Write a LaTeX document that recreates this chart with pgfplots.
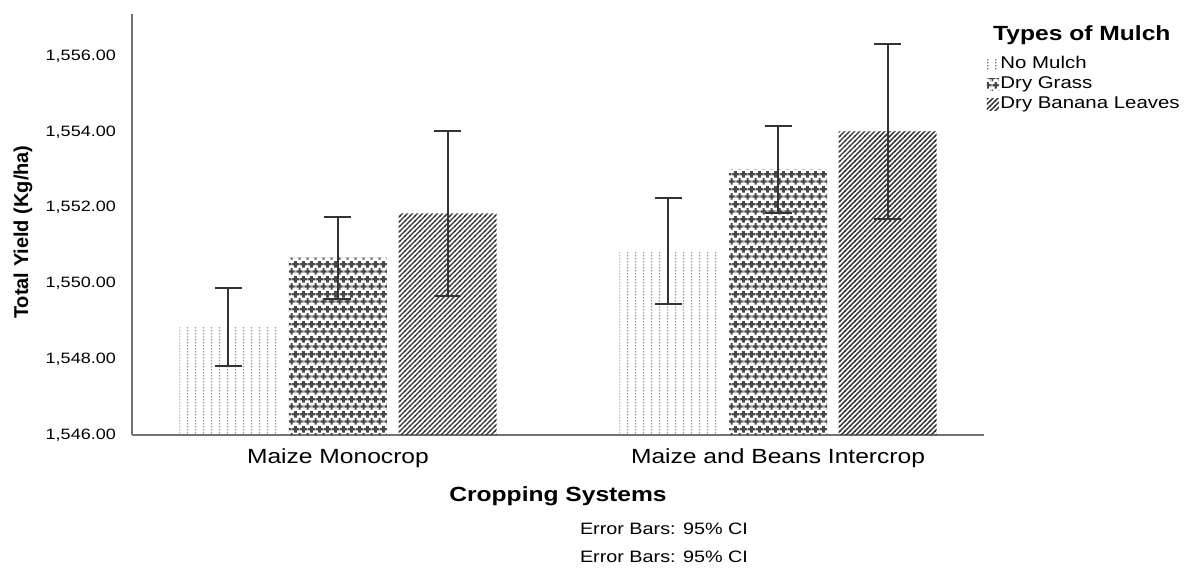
\documentclass[border=0pt]{standalone}
\usepackage{fontspec}
\setmainfont{Liberation Sans}[FakeStretch=1.2]
\newfontfamily\plainsans{Liberation Sans}
\usepackage{pgfplots}
\pgfplotsset{compat=1.18}
\usetikzlibrary{patterns}

\pgfdeclarepatterninherentlycolored{nomulch}{\pgfpointorigin}{\pgfpoint{8pt}{3pt}}{\pgfpoint{8pt}{3pt}}{%
  \pgfsetcolor{black!60}%
  \pgfpathrectangle{\pgfpoint{3.3pt}{0.8pt}}{\pgfpoint{1.4pt}{1.4pt}}%
  \pgfusepath{fill}%
}
\pgfdeclarepatterninherentlycolored{drygrass}{\pgfpointorigin}{\pgfpoint{8pt}{14.6pt}}{\pgfpoint{8pt}{14.6pt}}{%
  \pgfsetcolor{black!72}%
  \pgfpathrectangle{\pgfpoint{2.9pt}{0.35pt}}{\pgfpoint{2.2pt}{6.6pt}}%
  \pgfpathrectangle{\pgfpoint{0.7pt}{2.55pt}}{\pgfpoint{6.6pt}{2.2pt}}%
  \pgfpathrectangle{\pgfpoint{0pt}{7.65pt}}{\pgfpoint{1.1pt}{6.6pt}}%
  \pgfpathrectangle{\pgfpoint{0pt}{9.85pt}}{\pgfpoint{3.3pt}{2.2pt}}%
  \pgfpathrectangle{\pgfpoint{6.9pt}{7.65pt}}{\pgfpoint{1.1pt}{6.6pt}}%
  \pgfpathrectangle{\pgfpoint{4.7pt}{9.85pt}}{\pgfpoint{3.3pt}{2.2pt}}%
  \pgfusepath{fill}%
  \pgfsetcolor{black!40}%
  \pgfpathrectangle{\pgfpoint{0pt}{2.75pt}}{\pgfpoint{0.9pt}{1.8pt}}%
  \pgfpathrectangle{\pgfpoint{7.1pt}{2.75pt}}{\pgfpoint{0.9pt}{1.8pt}}%
  \pgfpathrectangle{\pgfpoint{3.1pt}{10.05pt}}{\pgfpoint{1.8pt}{1.8pt}}%
  \pgfusepath{fill}%
}
\pgfdeclarepatterninherentlycolored{banana}{\pgfpoint{-1pt}{-1pt}}{\pgfpoint{6pt}{6pt}}{\pgfpoint{5pt}{5pt}}{%
  \pgfsetcolor{black!80}%
  \pgfsetlinewidth{1.4pt}%
  \pgfpathmoveto{\pgfpoint{-0.5pt}{-0.5pt}}%
  \pgfpathlineto{\pgfpoint{5.5pt}{5.5pt}}%
  \pgfusepath{stroke}%
}

\pgfplotsset{
  mybar/.style={
    ybar, bar width=0.2227, bar shift=0, draw=none,
    error bars/y dir=both, error bars/y explicit,
    error bars/error mark=-,
    error bars/error bar style={draw=black!80, line width=2pt},
    error bars/error mark options={rotate=90, draw=black!80, line width=2pt, mark size=13.5pt},
  },
  mylegend/.style={legend image code/.code={\path[##1] (0pt,-6pt) rectangle (12pt,6pt);}},
}

\begin{document}
\begin{tikzpicture}[x=1pt,y=1pt]
\path[use as bounding box] (0,0) rectangle (1196,-571);
\begin{axis}[
  at={(132pt,-435pt)}, anchor=south west,
  scale only axis, width=852pt, height=421pt,
  xmin=-0.468, xmax=1.468,
  ymin=1546, ymax=1557.11,
  axis x line*=bottom, axis y line*=left,
  axis line style={black!55, line width=1.2pt, -},
  xtick={0,1},
  xticklabels={Maize Monocrop, Maize and Beans Intercrop},
  ytick={1546,1548,1550,1552,1554,1556},
  major tick length=0pt,
  clip mode=individual,
  yticklabel style={font=\fontsize{15}{18}\selectfont, anchor=east, inner sep=0pt, xshift=-16pt,
    /pgf/number format/fixed, /pgf/number format/fixed zerofill, /pgf/number format/precision=2,
    /pgf/number format/1000 sep={,}, /pgf/number format/assume math mode=true},
  xticklabel style={font=\fontsize{20.5}{24}\selectfont, anchor=base, inner sep=0pt, yshift=-28pt},
  xlabel={Cropping Systems},
  xlabel style={font=\bfseries\fontsize{20.5}{24}\selectfont, at={(axis description cs:0.5,0)}, anchor=base, inner sep=0pt, yshift=-66pt},
  ylabel={Total Yield (Kg/ha)},
  ylabel style={font=\plainsans\bfseries\fontsize{20}{24}\selectfont, at={(axis description cs:-0.1279,0.482)}, anchor=center, inner sep=0pt},
  legend style={at={(axis description cs:1.0035,0.905)}, anchor=north west, draw=none, fill=none,
    inner sep=0pt, outer sep=0pt, row sep=0pt, font=\fontsize{17}{20}\selectfont,
    nodes={inner xsep=1.5pt, inner ysep=2pt, text height=12.5pt, text depth=3.5pt}},
  legend cell align=left,
]
\addplot[mybar, pattern=nomulch, mylegend] coordinates {
  (-0.249,1548.85) +- (0,1.03)
  (0.751,1550.85) +- (0,1.40)
};
\addlegendentry{No Mulch}
\addplot[mybar, pattern=drygrass, mylegend] coordinates {
  (0,1550.68) +- (0,1.08)
  (1,1553.01) +- (0,1.15)
};
\addlegendentry{Dry Grass}
\addplot[mybar, pattern=banana, mylegend] coordinates {
  (0.249,1551.85) +- (0,2.17)
  (1.249,1554.01) +- (0,2.31)
};
\addlegendentry{Dry Banana Leaves}
\node[anchor=base west, inner sep=0pt, font=\bfseries\fontsize{20.5}{24}\selectfont] at (axis description cs:1.0106,0.9359) {Types of Mulch};
\node[anchor=base, inner sep=0pt, font=\fontsize{16.5}{19}\selectfont] at (axis description cs:0.6244,-0.2352) {Error Bars: 95\% CI};
\node[anchor=base, inner sep=0pt, font=\fontsize{16.5}{19}\selectfont] at (axis description cs:0.6244,-0.3040) {Error Bars: 95\% CI};
\end{axis}
\end{tikzpicture}
\end{document}
